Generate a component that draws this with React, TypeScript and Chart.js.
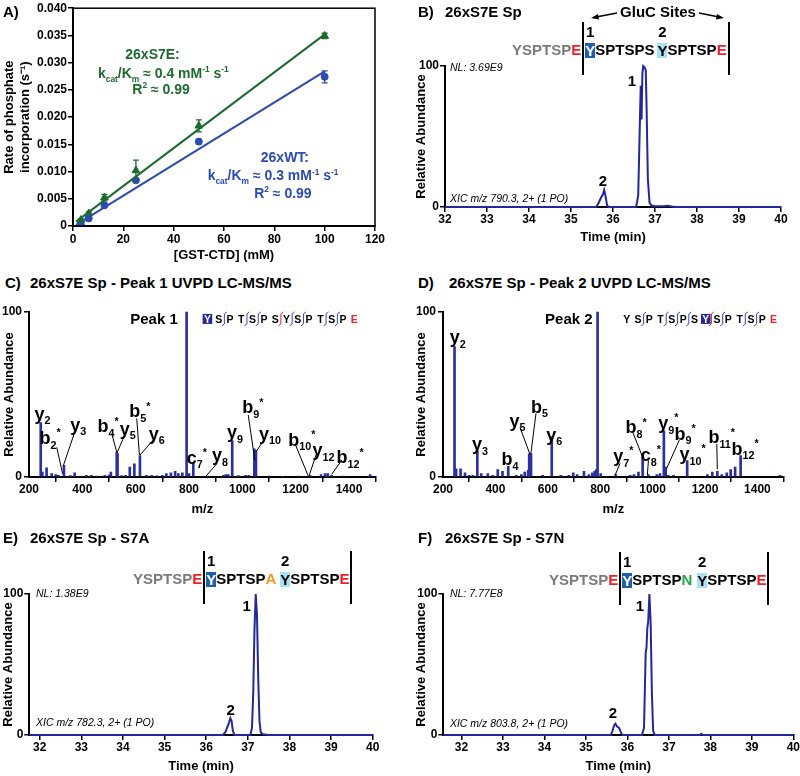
import React, { useEffect, useRef } from "react";
import { Chart, registerables } from "chart.js";
Chart.register(...registerables);

const FONT = "'Liberation Sans', Arial, Helvetica, sans-serif";
Chart.defaults.font.family = FONT;

const GREEN = "#1d6b2f";
const BLUE = "#2c4bb0";
const NAVY = "#23289a";
const BARC = "#2b2fa0";
const GRAY = "#7b7b7b";
const RED = "#ee2028";
const ORANGE = "#f7931e";
const NGREEN = "#26a84a";
const DARKY = "#1f5fae";
const LIGHTY = "#a7e2f4";
const BRK = "#3a46c0";

// ---------- Panel A data ----------
const conc = [3.125, 6.25, 12.5, 25, 50, 100];
const rateS7E = [0.0011, 0.0023, 0.0052, 0.0102, 0.0184, 0.0349];
const errS7E = [0.0002, 0.0003, 0.0006, 0.0019, 0.0011, 0.0005];
const rateWT = [0.0002, 0.0014, 0.0038, 0.0084, 0.0155, 0.0274];
const errWT = [0.0001, 0.0004, 0.0002, 0.0003, 0.0004, 0.0011];
const fitX = [1.2, 100];
const fitS7E = [0.0008, 0.0352];
const fitWT = [0.0002, 0.0284];
const aYTicks = [0, 0.005, 0.01, 0.015, 0.02, 0.025, 0.03, 0.035, 0.04];
const aXTicks = [0, 20, 40, 60, 80, 100, 120];

// ---------- Chromatograms ----------
const timeTicks = [32, 33, 34, 35, 36, 37, 38, 39, 40];
const abTicks = [0, 100];
const bTime = [32, 35.6, 35.66, 35.72, 35.76, 35.79, 35.82, 35.86, 35.9, 36.55, 36.6, 36.64, 36.66, 36.68, 36.7, 36.72, 36.75, 36.78, 36.8, 36.83, 36.87, 36.92, 37.0, 37.2, 37.3, 37.4, 37.5, 40];
const bAb = [0, 0, 3, 7, 9, 12, 8, 1, 0, 0, 8, 60, 86, 62, 95, 100, 99, 97, 70, 20, 3, 1, 0.5, 0.5, 0.8, 0.3, 0, 0];
const eTime = [31.75, 36.4, 36.46, 36.5, 36.54, 36.58, 36.61, 36.64, 36.68, 37.06, 37.1, 37.13, 37.16, 37.19, 37.22, 37.25, 37.28, 37.31, 37.36, 37.5, 40];
const eAb = [0, 0, 2, 5, 8, 12, 10, 3, 0, 0, 5, 30, 75, 100, 85, 40, 10, 2, 0.5, 0, 0];
const fTime = [31.56, 35.6, 35.64, 35.68, 35.71, 35.75, 35.8, 35.84, 35.88, 36.35, 36.4, 36.44, 36.46, 36.48, 36.5, 36.53, 36.56, 36.59, 36.62, 36.66, 37.75, 37.78, 37.82, 40];
const fAb = [0, 0, 3, 7, 8, 6, 5, 2, 0, 0, 5, 58, 62, 76, 80, 100, 80, 30, 3, 0, 0, 0.8, 0, 0];

// ---------- Spectra ----------
const mzTicks = [200, 400, 600, 800, 1000, 1200, 1400];
const cMz = [244, 250, 266, 285, 300, 310, 331, 355, 371, 415, 434, 455, 484, 500, 507, 529, 532, 548, 562, 578, 595, 616, 640, 660, 680, 700, 715, 732, 748, 760, 775, 791, 800, 816, 870, 929, 938, 947, 962, 985, 1012, 1024, 1045, 1051, 1100, 1150, 1210, 1254, 1295, 1310, 1320, 1335, 1380, 1479];
const cInt = [33, 3, 5.5, 2, 1.5, 1, 7, 0.8, 2.5, 1, 1, 0.6, 1, 1.2, 3, 15, 14, 0.8, 1, 6, 8, 13, 1, 1, 0.7, 1, 2, 2.5, 3.5, 2, 2.5, 100, 2, 8.5, 0.5, 1, 1.5, 1.5, 22, 0.8, 1, 1, 17, 16, 0.5, 0.4, 0.5, 1, 1.5, 2, 2, 1, 0.6, 1.5];
const dMz = [244, 250, 267, 284, 300, 314, 331, 346, 371, 390, 409, 427, 449, 480, 499, 512, 525, 529, 536, 580, 615, 650, 680, 697, 712, 738, 757, 770, 779, 785, 790, 802, 859, 914, 929, 946, 962, 984, 1016, 1028, 1043, 1050, 1060, 1080, 1132, 1209, 1228, 1247, 1264, 1283, 1298, 1315, 1336, 1486];
const dInt = [79, 5, 5, 2.5, 1, 1, 16, 2, 2, 1, 4.5, 3.5, 6.5, 1, 1.5, 3, 4, 14, 14, 1, 24.5, 1, 1, 2.5, 1.5, 3.5, 1.5, 2.5, 3.5, 4.5, 100, 2, 1.5, 1, 1.5, 3, 12, 1.5, 1.5, 2, 28, 6, 1, 1, 10, 1.5, 3, 3.5, 1.5, 2.5, 4.5, 6, 13, 1];
const peptide = "YSPTSPSYSPTSPE";

// ---------- text helpers ----------
type Seg = { t: string; s?: "sub" | "sup"; c?: string };
type Ann = {
  x: number; y: number; segs?: Seg[]; size?: number; align?: "left" | "center" | "right";
  color?: string; style?: string; line?: [number, number, number, number];
  pep?: { hi: number; cuts: number[]; red: number };
};

function drawRich(ctx: CanvasRenderingContext2D, segs: Seg[], x: number, y: number, size: number, align: string, color: string, style: string) {
  const fontFor = (s: Seg) => `${style} ${s.s ? (size * 0.6).toFixed(1) : size}px ${FONT}`;
  let w = 0;
  const ws = segs.map((s) => { ctx.font = fontFor(s); const m = ctx.measureText(s.t).width; w += m; return m; });
  let cx = align === "left" ? x : align === "right" ? x - w : x - w / 2;
  const base = y + size * 0.36;
  ctx.textAlign = "left";
  ctx.textBaseline = "alphabetic";
  segs.forEach((s, i) => {
    ctx.font = fontFor(s);
    ctx.fillStyle = s.c || color;
    const dy = s.s === "sub" ? size * 0.26 : s.s === "sup" ? -size * 0.42 : 0;
    ctx.fillText(s.t, cx, base + dy);
    cx += ws[i];
  });
}

function drawPep(ctx: CanvasRenderingContext2D, x0: number, y: number, p: { hi: number; cuts: number[]; red: number }) {
  const step = 11.3;
  ctx.font = `bold 10.5px ${FONT}`;
  ctx.textAlign = "center";
  ctx.textBaseline = "alphabetic";
  peptide.split("").forEach((L, i) => {
    const cx = x0 + i * step;
    if (i === p.hi) {
      ctx.fillStyle = NAVY;
      ctx.fillRect(cx - 4.8, y - 5, 9.6, 10);
      ctx.fillStyle = "#fff";
    } else ctx.fillStyle = i === peptide.length - 1 ? RED : "#000";
    ctx.fillText(L, cx, y + 4);
  });
  ctx.lineWidth = 1;
  p.cuts.forEach((i) => {
    const bx = x0 + (i + 0.5) * step;
    ctx.strokeStyle = i === p.red ? RED : BRK;
    ctx.beginPath();
    ctx.moveTo(bx + 2.5, y - 7);
    ctx.lineTo(bx, y - 5);
    ctx.lineTo(bx, y + 5);
    ctx.lineTo(bx - 2.5, y + 7);
    ctx.stroke();
  });
}

const annPlugin = (items: Ann[]) => ({
  id: "ann",
  afterDraw(chart: any) {
    const { ctx, scales } = chart;
    const xs = scales.x, ys = scales.y;
    ctx.save();
    for (const a of items) {
      if (a.line) {
        ctx.beginPath();
        ctx.moveTo(xs.getPixelForValue(a.line[0]), ys.getPixelForValue(a.line[1]));
        ctx.lineTo(xs.getPixelForValue(a.line[2]), ys.getPixelForValue(a.line[3]));
        ctx.strokeStyle = "#000";
        ctx.lineWidth = 1;
        ctx.stroke();
      }
      if (a.pep) drawPep(ctx, xs.getPixelForValue(a.x), ys.getPixelForValue(a.y), a.pep);
      if (a.segs)
        drawRich(ctx, a.segs, xs.getPixelForValue(a.x), ys.getPixelForValue(a.y), a.size ?? 15, a.align ?? "center", a.color ?? "#000", a.style ?? "bold");
    }
    ctx.restore();
  },
});

const ion = (l: string, n: string, star = false): Seg[] => {
  const s: Seg[] = [{ t: l }, { t: n, s: "sub" }];
  if (star) s.push({ t: "*", s: "sup" });
  return s;
};
const kcat = (v: string): Seg[] => [
  { t: "k" }, { t: "cat", s: "sub" }, { t: "/K" }, { t: "m", s: "sub" },
  { t: ` ≈ ${v} mM` }, { t: "-1", s: "sup" }, { t: " s" }, { t: "-1", s: "sup" },
];
const r2: Seg[] = [{ t: "R" }, { t: "2", s: "sup" }, { t: " ≈ 0.99" }];

// ---------- geometry ----------
type Geo = { left: number; top: number; width: number; height: number; area: [number, number, number, number] };
const geoA: Geo = { left: 0, top: 0, width: 400, height: 270, area: [73, 7, 375, 226] };
const geoB: Geo = { left: 400, top: 0, width: 400, height: 250, area: [445, 66, 781, 207] };
const geoC: Geo = { left: 0, top: 295, width: 400, height: 225, area: [29, 312, 375.7, 477] };
const geoD: Geo = { left: 400, top: 295, width: 400, height: 225, area: [443, 312, 783.6, 477] };
const geoE: Geo = { left: 0, top: 520, width: 400, height: 256, area: [29.3, 594, 372.7, 735] };
const geoF: Geo = { left: 400, top: 520, width: 420, height: 256, area: [443.3, 594, 793.3, 735] };

function axis(o: { min: number; max: number; ticks: number[]; horizontal: boolean; size: number; title: string | string[]; titlePad: number; tickPad: number; fmt?: (v: number) => string }) {
  return {
    type: "linear",
    min: o.min,
    max: o.max,
    afterBuildTicks: (s: any) => { s.ticks = o.ticks.map((v) => ({ value: v })); },
    afterFit: (s: any) => { if (o.horizontal) s.height = o.size; else s.width = o.size; },
    grid: { display: true, drawOnChartArea: false, drawTicks: true, tickLength: 5, color: "#000", lineWidth: 1.5 },
    border: { display: true, color: "#000", width: 2 },
    ticks: {
      color: "#000", font: { size: 12, weight: "bold" }, padding: o.tickPad, autoSkip: false, maxRotation: 0,
      callback: (v: any) => (o.fmt ? o.fmt(Number(v)) : String(v)),
    },
    title: {
      display: true, text: o.title, color: "#000", font: { size: 13, weight: "bold" },
      padding: o.horizontal ? { top: 0, bottom: o.titlePad } : { top: o.titlePad, bottom: 0 },
    },
  };
}

function options(g: Geo, x: any, y: any) {
  const [, T, R] = g.area;
  return {
    responsive: false, animation: false, events: [],
    layout: { padding: { left: 0, top: T - g.top, right: g.left + g.width - R, bottom: 0 } },
    plugins: { legend: { display: false }, tooltip: { enabled: false } },
    scales: { x, y },
  };
}

const xH = (g: Geo) => g.top + g.height - g.area[3];
const yW = (g: Geo) => g.area[0] - g.left;

const errPlugin = {
  id: "err",
  afterDatasetsDraw(chart: any) {
    const { ctx, scales: { x, y } } = chart;
    ctx.save();
    const sets: [number[], number[], string][] = [[rateS7E, errS7E, GREEN], [rateWT, errWT, BLUE]];
    sets.forEach(([r, e, c]) => conc.forEach((cx, i) => {
      const px = x.getPixelForValue(cx);
      const y1 = y.getPixelForValue(r[i] + e[i]);
      const y2 = y.getPixelForValue(r[i] - e[i]);
      ctx.beginPath();
      ctx.moveTo(px, y1); ctx.lineTo(px, y2);
      ctx.moveTo(px - 3, y1); ctx.lineTo(px + 3, y1);
      ctx.moveTo(px - 3, y2); ctx.lineTo(px + 3, y2);
      ctx.strokeStyle = c; ctx.lineWidth = 1.3; ctx.stroke();
    }));
    ctx.restore();
  },
};
const framePlugin = {
  id: "frame",
  afterDraw(chart: any) {
    const { ctx, chartArea: a } = chart;
    ctx.save();
    ctx.strokeStyle = "#000"; ctx.lineWidth = 1.5;
    ctx.strokeRect(a.left, a.top, a.right - a.left, a.bottom - a.top);
    ctx.restore();
  },
};

const aAnn: Ann[] = [
  { x: 31.6, y: 0.0316, segs: [{ t: "26xS7E:" }], color: GREEN, size: 14 },
  { x: 35.9, y: 0.0281, segs: kcat("0.4"), color: GREEN, size: 14 },
  { x: 35.0, y: 0.0252, segs: r2, color: GREEN, size: 14 },
  { x: 84.2, y: 0.0126, segs: [{ t: "26xWT:" }], color: BLUE, size: 14 },
  { x: 79.5, y: 0.0093, segs: kcat("0.3"), color: BLUE, size: 14 },
  { x: 83.4, y: 0.006, segs: r2, color: BLUE, size: 14 },
];

function configA() {
  return {
    type: "scatter",
    data: {
      datasets: [
        { type: "line", data: fitX.map((x, i) => ({ x, y: fitS7E[i] })), borderColor: GREEN, borderWidth: 2, pointRadius: 0 },
        { type: "line", data: fitX.map((x, i) => ({ x, y: fitWT[i] })), borderColor: BLUE, borderWidth: 2, pointRadius: 0 },
        { data: conc.map((x, i) => ({ x, y: rateS7E[i] })), pointStyle: "triangle", pointRadius: 4.5, backgroundColor: GREEN, borderColor: GREEN },
        { data: conc.map((x, i) => ({ x, y: rateWT[i] })), pointStyle: "circle", pointRadius: 3.5, backgroundColor: BLUE, borderColor: BLUE },
      ],
    },
    options: options(
      geoA,
      axis({ min: 0, max: 120, ticks: aXTicks, horizontal: true, size: xH(geoA), title: "[GST-CTD] (mM)", titlePad: 7, tickPad: 1 }),
      axis({ min: 0, max: 0.04, ticks: aYTicks, horizontal: false, size: yW(geoA), title: ["Rate of phosphate", "incorporation (s⁻¹)"], titlePad: 2, tickPad: 1, fmt: (v) => (v === 0 ? "0" : v.toFixed(3)) })
    ),
    plugins: [errPlugin, framePlugin, annPlugin(aAnn)],
  };
}

function configChrom(g: Geo, min: number, t: number[], a: number[], anns: Ann[], yPad: number, xPad: number) {
  return {
    type: "line",
    data: { datasets: [{ data: t.map((x, i) => ({ x, y: a[i] })), borderColor: NAVY, borderWidth: 2, pointRadius: 0, tension: 0, clip: 6 }] },
    options: options(
      g,
      axis({ min, max: 40, ticks: timeTicks, horizontal: true, size: xH(g), title: "Time (min)", titlePad: xPad, tickPad: 0 }),
      axis({ min: 0, max: 100, ticks: abTicks, horizontal: false, size: yW(g), title: "Relative Abundance", titlePad: yPad, tickPad: 1 })
    ),
    plugins: [annPlugin(anns)],
  };
}

function configSpec(g: Geo, mz: number[], it: number[], anns: Ann[], yPad: number) {
  return {
    type: "bar",
    data: { datasets: [{ data: mz.map((x, i) => ({ x, y: it[i] })), backgroundColor: BARC, barThickness: 2, clip: 4 }] },
    options: options(
      g,
      { ...axis({ min: 200, max: 1500, ticks: mzTicks, horizontal: true, size: xH(g), title: "m/z", titlePad: 3, tickPad: 0 }), offset: false },
      axis({ min: 0, max: 100, ticks: abTicks, horizontal: false, size: yW(g), title: "Relative Abundance", titlePad: yPad, tickPad: 2 })
    ),
    plugins: [annPlugin(anns)],
  };
}

const bAnn: Ann[] = [
  { x: 32.12, y: 99.3, segs: [{ t: "NL: 3.69E9" }], size: 10.5, align: "left", style: "italic" },
  { x: 32.12, y: 6.4, segs: [{ t: "XIC m/z 790.3, 2+ (1 PO)" }], size: 10.5, align: "left", style: "italic" },
  { x: 36.45, y: 90, segs: [{ t: "1" }] },
  { x: 35.76, y: 19, segs: [{ t: "2" }] },
];
const eAnn: Ann[] = [
  { x: 31.91, y: 100.7, segs: [{ t: "NL: 1.38E9" }], size: 10.5, align: "left", style: "italic" },
  { x: 31.91, y: 9, segs: [{ t: "XIC m/z 782.3, 2+ (1 PO)" }], size: 10.5, align: "left", style: "italic" },
  { x: 36.97, y: 92, segs: [{ t: "1" }] },
  { x: 36.59, y: 17.7, segs: [{ t: "2" }] },
];
const fAnn: Ann[] = [
  { x: 31.72, y: 100.7, segs: [{ t: "NL: 7.77E8" }], size: 10.5, align: "left", style: "italic" },
  { x: 31.72, y: 8.3, segs: [{ t: "XIC m/z 803.8, 2+ (1 PO)" }], size: 10.5, align: "left", style: "italic" },
  { x: 36.3, y: 91.5, segs: [{ t: "1" }] },
  { x: 35.65, y: 15.6, segs: [{ t: "2" }] },
];
const IS = 18;
const cAnn: Ann[] = [
  { x: 758, y: 95.8, segs: [{ t: "Peak 1" }], align: "right", size: 15 },
  { x: 869, y: 95.8, pep: { hi: 0, cuts: [1, 3, 4, 6, 7, 8, 10, 11], red: 6 } },
  { x: 251, y: 38.6, segs: ion("y", "2"), size: IS },
  { x: 279, y: 24, segs: ion("b", "2", true), size: IS, line: [304, 18, 326, 2] },
  { x: 385, y: 32, segs: ion("y", "3"), size: IS, line: [372, 27.5, 329, 7] },
  { x: 497, y: 31, segs: ion("b", "4", true), size: IS, line: [510, 26.5, 529, 15] },
  { x: 570, y: 29.5, segs: ion("y", "5"), size: IS, line: [556, 24.4, 531, 15] },
  { x: 616, y: 40, segs: ion("b", "5", true), size: IS, line: [604, 35.5, 614, 13.3] },
  { x: 679, y: 26.5, segs: ion("y", "6"), size: IS, line: [666, 22.4, 616, 13.3] },
  { x: 829, y: 12, segs: ion("c", "7", true), size: IS },
  { x: 916, y: 13.7, segs: ion("y", "8"), size: IS, line: [904, 8, 864, 0.6] },
  { x: 972, y: 27.5, segs: ion("y", "9"), size: IS },
  { x: 1039, y: 42.6, segs: ion("b", "9", true), size: IS, line: [1022, 37.6, 1047, 10] },
  { x: 1104, y: 26.5, segs: ion("y", "10"), size: IS, line: [1085, 23.4, 1051, 15.3] },
  { x: 1223, y: 23, segs: ion("b", "10", true), size: IS, line: [1201, 18.8, 1247, 0.6] },
  { x: 1304, y: 16.4, segs: ion("y", "12"), size: IS, line: [1276, 13.3, 1251, 1] },
  { x: 1404, y: 12.3, segs: ion("b", "12", true), size: IS, line: [1373, 10.3, 1335, 1.6] },
];
const dAnn: Ann[] = [
  { x: 771, y: 95.8, segs: [{ t: "Peak 2" }], align: "right", size: 15 },
  { x: 901, y: 95.8, pep: { hi: 7, cuts: [1, 3, 4, 5, 7, 8, 10, 11], red: 7 } },
  { x: 256, y: 85, segs: ion("y", "2"), size: IS },
  { x: 341, y: 20, segs: ion("y", "3"), size: IS },
  { x: 456, y: 11, segs: ion("b", "4"), size: IS },
  { x: 484, y: 34.5, segs: ion("y", "5"), size: IS, line: [494, 30, 532, 13.7] },
  { x: 568, y: 43, segs: ion("b", "5"), size: IS, line: [555, 38.6, 535, 13.7] },
  { x: 625, y: 26, segs: ion("y", "6"), size: IS },
  { x: 888, y: 13, segs: ion("y", "7", true), size: IS, line: [876, 8.3, 857, 1.2] },
  { x: 937, y: 30.5, segs: ion("b", "8", true), size: IS, line: [926, 26.5, 961, 12.3] },
  { x: 993, y: 13.7, segs: ion("c", "8", true), size: IS, line: [984, 10, 980, 1.2] },
  { x: 1060, y: 33, segs: ion("y", "9", true), size: IS },
  { x: 1124, y: 26.5, segs: ion("b", "9", true), size: IS, line: [1102, 22.4, 1054, 5.3] },
  { x: 1153, y: 14.3, segs: ion("y", "10", true), size: IS },
  { x: 1264, y: 24.4, segs: ion("b", "11", true), size: IS, line: [1245, 20, 1247, 4.7] },
  { x: 1353, y: 17.4, segs: ion("b", "12", true), size: IS },
];

const PANELS: { geo: Geo; make: () => any }[] = [
  { geo: geoA, make: configA },
  { geo: geoB, make: () => configChrom(geoB, 32, bTime, bAb, bAnn, 14, 5) },
  { geo: geoC, make: () => configSpec(geoC, cMz, cInt, cAnn, 2) },
  { geo: geoD, make: () => configSpec(geoD, dMz, dInt, dAnn, 14) },
  { geo: geoE, make: () => configChrom(geoE, 31.75, eTime, eAb, eAnn, 0.5, 2) },
  { geo: geoF, make: () => configChrom(geoF, 31.56, fTime, fAb, fAnn, 14, 2) },
];

const titles = [
  { x: 3, y: 12, t: "A)" },
  { x: 418, y: 12, t: "B)" }, { x: 445, y: 12, t: "26xS7E Sp" },
  { x: 5, y: 283, t: "C)" }, { x: 30, y: 283, t: "26xS7E Sp - Peak 1 UVPD LC-MS/MS" },
  { x: 418, y: 283, t: "D)" }, { x: 449, y: 283, t: "26xS7E Sp - Peak 2 UVPD LC-MS/MS" },
  { x: 3, y: 538, t: "E)" }, { x: 30, y: 538, t: "26xS7E Sp - S7A" },
  { x: 418, y: 538, t: "F)" }, { x: 445, y: 538, t: "26xS7E Sp - S7N" },
];

const seqLead = "YSPTSP";
const seqCut = "E";
const seqBody = "SPTSP";

function Bar() {
  return (
    <span style={{ position: "relative", display: "inline-block", width: 4, height: 18 }}>
      <span style={{ position: "absolute", left: 1, top: -19, width: 2, height: 53, background: "#000" }} />
    </span>
  );
}
function YBox({ n, bg, fg }: { n: string; bg: string; fg: string }) {
  return (
    <span style={{ position: "relative", display: "inline-block", background: bg, color: fg, height: 15, lineHeight: "15px" }}>
      Y
      <span style={{ position: "absolute", left: -5, right: -5, top: -20, lineHeight: "18px", textAlign: "center", color: "#000" }}>{n}</span>
    </span>
  );
}
function SeqRow({ left, cy, mut, mutColor, gap }: { left: number; cy: number; mut: string; mutColor: string; gap: number }) {
  return (
    <div style={{ position: "absolute", left, top: cy - 9, height: 18, display: "flex", alignItems: "center", font: `bold 15px ${FONT}`, whiteSpace: "pre", lineHeight: "18px" }}>
      <span style={{ color: GRAY }}>{seqLead}</span>
      <span style={{ color: RED }}>{seqCut}</span>
      <Bar />
      <YBox n="1" bg={DARKY} fg="#fff" />
      <span>{seqBody}</span>
      <span style={{ color: mutColor }}>{mut}</span>
      <span style={{ display: "inline-block", width: gap }} />
      <YBox n="2" bg={LIGHTY} fg="#000" />
      <span>{seqBody}</span>
      <span style={{ color: RED }}>{seqCut}</span>
      <Bar />
    </div>
  );
}

export default function App() {
  const refs = [useRef<HTMLCanvasElement>(null), useRef<HTMLCanvasElement>(null), useRef<HTMLCanvasElement>(null), useRef<HTMLCanvasElement>(null), useRef<HTMLCanvasElement>(null), useRef<HTMLCanvasElement>(null)];
  useEffect(() => {
    const charts = PANELS.map((p, i) => new Chart(refs[i].current as HTMLCanvasElement, p.make() as any));
    return () => charts.forEach((c) => c.destroy());
  }, []);
  return (
    <div style={{ position: "absolute", left: 0, top: 0, width: 800, height: 776, overflow: "hidden", background: "#fff", fontFamily: FONT }}>
      {PANELS.map((p, i) => (
        <canvas key={i} ref={refs[i]} width={p.geo.width} height={p.geo.height} style={{ position: "absolute", left: p.geo.left, top: p.geo.top, width: p.geo.width, height: p.geo.height }} />
      ))}
      {titles.map((t, i) => (
        <div key={i} style={{ position: "absolute", left: t.x, top: t.y - 9, lineHeight: "18px", font: `bold 15px ${FONT}`, whiteSpace: "pre", color: "#000" }}>{t.t}</div>
      ))}
      <SeqRow left={512} cy={50} mut="S" mutColor="#000" gap={3} />
      <SeqRow left={133} cy={579} mut="A" mutColor={ORANGE} gap={4} />
      <SeqRow left={549} cy={580} mut="N" mutColor={NGREEN} gap={5} />
      <div style={{ position: "absolute", left: 618, top: 3, width: 80, textAlign: "center", lineHeight: "18px", font: `bold 15px ${FONT}`, whiteSpace: "pre" }}>GluC Sites</div>
      <svg width={800} height={776} style={{ position: "absolute", left: 0, top: 0, pointerEvents: "none" }}>
        <line x1={617} y1={13} x2={596} y2={17} stroke="#000" strokeWidth={1.3} />
        <polygon points="591,18 598,14 599,19.5" fill="#000" />
        <line x1={699} y1={13} x2={719} y2={17} stroke="#000" strokeWidth={1.3} />
        <polygon points="724,18 717,14 716,19.5" fill="#000" />
      </svg>
    </div>
  );
}
